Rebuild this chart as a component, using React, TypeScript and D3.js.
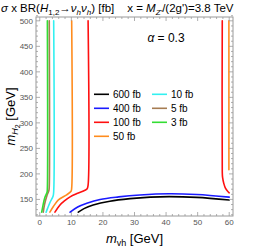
import * as d3 from 'd3';

// contour levels, legend order
const levels = ['600 fb', '400 fb', '100 fb', '50 fb', '10 fb', '5 fb', '3 fb'];
const colors = ['#000000', '#1a1aff', '#ff1010', '#ff8c1e', '#33f0f0', '#a67c52', '#33dd33'];

const xTicks = [0, 10, 20, 30, 40, 50, 60];
const yTicks = [150, 200, 250, 300, 350, 400, 450, 500];

// contour lines: [m_vh, m_H2]
const c600 = [[12.2, 125], [14, 132], [16.9, 139], [22.2, 146.5], [28.6, 151.5], [35, 154.5], [41, 155.5], [49.7, 154], [60, 149]];
const c400 = [[9.6, 125], [12, 135], [14.9, 142.4], [19.1, 150], [25, 155], [31.7, 158.7], [41, 161], [49.7, 159.5], [60, 154.5]];
const c100a = [[15.3, 500], [15.3, 178], [15.0, 171], [14.3, 168], [12, 162], [9.6, 155], [7.8, 147], [6.4, 139], [4.8, 125]];
const c100b = [[57.8, 500], [57.8, 205], [57.9, 193], [58.3, 181], [58.8, 172], [59.5, 166], [60, 163]];
const c50a = [[10.1, 500], [10.1, 172], [9.9, 166], [8.5, 159], [5.9, 149], [4.3, 136], [3.2, 125]];
const c50b = [[59.9, 500], [59.9, 208]];
const c10 = [[4.4, 500], [4.4, 165], [4.2, 156], [3.3, 145], [2.5, 133], [2.0, 125]];
const c5 = [[3.0, 500], [3.0, 175], [2.9, 168], [2.3, 158], [1.5, 140], [1.1, 125]];
const c3 = [[2.4, 500], [2.4, 172], [2.3, 164], [1.6, 154], [1.0, 138], [0.6, 125]];

const series = [
  { color: colors[0], lines: [c600] },
  { color: colors[1], lines: [c400] },
  { color: colors[2], lines: [c100a, c100b] },
  { color: colors[3], lines: [c50a, c50b] },
  { color: colors[4], lines: [c10] },
  { color: colors[5], lines: [c5] },
  { color: colors[6], lines: [c3] },
];

const W = 271, H = 247;
const m = { left: 36, right: 233, top: 17, bottom: 216 };

export default function App() {
  const x = d3.scaleLinear().domain([-1.2, 61.2]).range([m.left, m.right]);
  const y = d3.scaleLinear().domain([117.5, 507.5]).range([m.bottom, m.top]);
  const line = d3.line<number[]>()
    .x(d => x(d[0]))
    .y(d => y(d[1]))
    .curve(d3.curveCatmullRom.alpha(0.5));

  const xMinor = d3.range(0, 61, 2).filter(v => v % 10 !== 0);
  const yMinor = d3.range(120, 511, 10).filter(v => v % 50 !== 0);
  const frame = '#9a9a9a';
  const font = 'Liberation Sans, Arial, sans-serif';

  return (
    <svg width={W} height={H} style={{ position: 'absolute', left: 0, top: 0, background: '#fff' }} fontFamily={font}>
      {/* title */}
      <text x={1} y={12} fontSize={11.5} fill="#000">
        <tspan fontStyle="italic">σ</tspan> x BR(<tspan fontStyle="italic">H</tspan>
        <tspan fontSize={8} dy={3}>1,2</tspan>
        <tspan dy={-3}>→</tspan><tspan fontStyle="italic">ν</tspan>
        <tspan fontSize={8} dy={3} fontStyle="italic">h</tspan>
        <tspan dy={-3} fontStyle="italic">ν</tspan>
        <tspan fontSize={8} dy={3} fontStyle="italic">h</tspan>
        <tspan dy={-3}>) [fb]</tspan>
        <tspan dx={13}>x = </tspan><tspan fontStyle="italic">M</tspan>
        <tspan fontSize={8} dy={3} fontStyle="italic">Z'</tspan>
        <tspan dy={-3}>/(2g')=3.8 TeV</tspan>
      </text>

      {/* curves */}
      <g fill="none" strokeWidth={1.6} strokeLinejoin="round" strokeLinecap="round">
        {series.map((s, i) => s.lines.map((l, j) => (
          <path key={`${i}-${j}`} d={line(l) || ''} stroke={s.color} />
        )))}
      </g>

      {/* frame */}
      <rect x={m.left} y={m.top} width={m.right - m.left} height={m.bottom - m.top} fill="none" stroke={frame} strokeWidth={1} />
      <g stroke={frame} strokeWidth={0.8}>
        {xTicks.map(v => (
          <g key={'xt' + v}>
            <line x1={x(v)} x2={x(v)} y1={m.bottom} y2={m.bottom - 4} />
            <line x1={x(v)} x2={x(v)} y1={m.top} y2={m.top + 4} />
          </g>
        ))}
        {xMinor.map(v => (
          <g key={'xm' + v}>
            <line x1={x(v)} x2={x(v)} y1={m.bottom} y2={m.bottom - 2} />
            <line x1={x(v)} x2={x(v)} y1={m.top} y2={m.top + 2} />
          </g>
        ))}
        {yTicks.map(v => (
          <g key={'yt' + v}>
            <line x1={m.left} x2={m.left + 4} y1={y(v)} y2={y(v)} />
            <line x1={m.right} x2={m.right - 4} y1={y(v)} y2={y(v)} />
          </g>
        ))}
        {yMinor.map(v => (
          <g key={'ym' + v}>
            <line x1={m.left} x2={m.left + 2} y1={y(v)} y2={y(v)} />
            <line x1={m.right} x2={m.right - 2} y1={y(v)} y2={y(v)} />
          </g>
        ))}
      </g>
      <g fontSize={8} fill="#555">
        {xTicks.map(v => (
          <text key={'xl' + v} x={x(v)} y={m.bottom + 9} textAnchor="middle">{v}</text>
        ))}
        {yTicks.map(v => (
          <text key={'yl' + v} x={m.left - 3} y={y(v) + 3} textAnchor="end">{v}</text>
        ))}
      </g>

      {/* axis titles */}
      <text x={(m.left + m.right) / 2} y={243} fontSize={13} textAnchor="middle">
        <tspan fontStyle="italic">m</tspan>
        <tspan fontSize={9} dy={3}>vh</tspan>
        <tspan dy={-3}> [GeV]</tspan>
      </text>
      <text transform={`translate(15,${(m.top + m.bottom) / 2}) rotate(-90)`} fontSize={13} textAnchor="middle">
        <tspan fontStyle="italic">m</tspan>
        <tspan fontSize={9} dy={3} fontStyle="italic">H</tspan>
        <tspan fontSize={7} dy={2}>2</tspan>
        <tspan dy={-5}> [GeV]</tspan>
      </text>

      <text x={166} y={42} fontSize={12} textAnchor="middle">
        <tspan fontStyle="italic">α</tspan> = 0.3
      </text>

      {/* legend */}
      <g fontSize={10}>
        {levels.map((lab, i) => {
          const col = i < 4 ? 0 : 1;
          const row = i < 4 ? i : i - 4;
          const lx = col === 0 ? 94 : 152;
          const ly = 94.3 + row * 14;
          return (
            <g key={lab}>
              <line x1={lx} x2={lx + 15} y1={ly} y2={ly} stroke={colors[i]} strokeWidth={1.6} />
              <text x={lx + 19} y={ly + 3.5}>{lab}</text>
            </g>
          );
        })}
      </g>
    </svg>
  );
}
